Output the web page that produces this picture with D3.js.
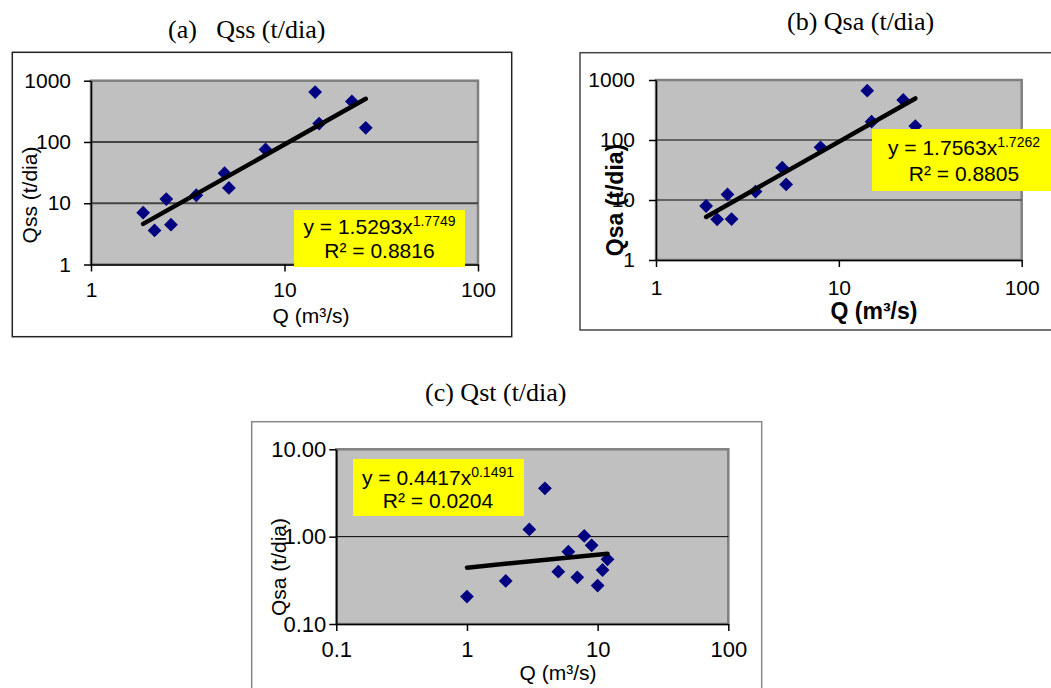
<!DOCTYPE html>
<html>
<head>
<meta charset="utf-8">
<script src="https://cdn.jsdelivr.net/npm/d3@7"></script>
<style>
  body { margin: 0; background: #fff; }
  svg { display: block; }
  .title { font-family: "Liberation Serif", "Times New Roman", serif; font-size: 26px; fill: #000; white-space: pre; }
  .tick text { font-family: "Liberation Sans", Arial, sans-serif; fill: #000; }
  .axis-title { font-family: "Liberation Sans", Arial, sans-serif; fill: #000; }
  .eq { font-family: "Liberation Sans", Arial, sans-serif; font-size: 21px; fill: #000; }
</style>
</head>
<body>
<div id="chart"></div>
<script>
// values
const qA = [1.86, 2.13, 2.45, 2.59, 3.50, 4.90, 5.16, 7.98, 14.4, 15.1, 22.3, 26.3];
const qssA = [7.0, 3.6, 11.7, 4.46, 13.5, 30.9, 17.8, 75.3, 653, 200, 459, 170];

const qB = [1.88, 2.16, 2.46, 2.59, 3.50, 4.90, 5.15, 7.94, 14.3, 15.1, 22.5, 26.2];
const qsaB = [7.94, 4.76, 12.4, 4.82, 13.8, 34.6, 18.2, 75.5, 664, 202, 464, 171];

const qC = [1.0, 1.98, 3.0, 3.95, 5.0, 5.97, 6.99, 7.9, 9.0, 10.0, 10.9, 11.9];
const qstC = [0.206, 0.311, 1.21, 3.58, 0.397, 0.673, 0.342, 1.02, 0.796, 0.275, 0.415, 0.55];

// power trendlines y = a * x^b
const coefA = { a: 1.5293, b: 1.7749, aTxt: "1.5293", bTxt: "1.7749", r2: "0.8816" };
const coefB = { a: 1.7563, b: 1.7262, aTxt: "1.7563", bTxt: "1.7262", r2: "0.8805" };
const coefC = { a: 0.4417, b: 0.1491, aTxt: "0.4417", bTxt: "0.1491", r2: "0.0204" };

const xTicksAB = [1, 10, 100];
const yTicksAB = [1, 10, 100, 1000];
const xTicksC = [0.1, 1, 10, 100];
const yTicksC = [0.1, 1, 10];
const yTickLabelsC = ["0.10", "1.00", "10.00"];

const width = 1051;
const height = 688;

const svg = d3.select("#chart").append("svg")
  .attr("width", width)
  .attr("height", height);

svg.append("rect").attr("width", width).attr("height", height).attr("fill", "#fff");

const panels = [
  {
    title: "(a)   Qss (t/dia)", titleX: 168, titleY: 38,
    frame: [12.3, 52.3, 511.7, 336.7], frameColor: "#222",
    xRange: [91, 478], yRange: [264.5, 80.7],
    xDomain: [1, 100], yDomain: [1, 1000],
    xTicks: xTicksAB, yTicks: yTicksAB, xFmt: d3.format("d"), yFmt: d3.format("d"),
    tickFs: 21, yPad: 13, xPad: 11,
    grid: "#444", gridW: 2,
    q: qA, v: qssA, coef: coefA,
    box: [294, 210, 171, 57], eqY: [234, 258], eqX: 379.5,
    xTitle: "Q (m³/s)", xTitleX: 311, xTitleY: 323, bold: false, titleFs: 21,
    yTitle: "Qss (t/dia)", yTitleX: 37, yTitleY: 195
  },
  {
    title: "(b) Qsa (t/dia)", titleX: 787, titleY: 30,
    frame: [580, 52.7, 1070, 330], frameColor: "#444",
    xRange: [656, 1021.7], yRange: [260, 80],
    xDomain: [1, 100], yDomain: [1, 1000],
    xTicks: xTicksAB, yTicks: yTicksAB, xFmt: d3.format("d"), yFmt: d3.format("d"),
    tickFs: 21, yPad: 14, xPad: 13,
    grid: "#444", gridW: 1.5,
    q: qB, v: qsaB, coef: coefB,
    box: [872, 129, 190, 62], eqY: [155, 181], eqX: 964,
    xTitle: "Q (m³/s)", xTitleX: 874, xTitleY: 319, bold: true, titleFs: 23,
    yTitle: "Qsa (t/dia)", yTitleX: 623, yTitleY: 200
  },
  {
    title: "(c) Qst (t/dia)", titleX: 425, titleY: 401,
    frame: [251.7, 421.7, 761.7, 700], frameColor: "#888",
    xRange: [336.3, 728.3], yRange: [624, 449.3],
    xDomain: [0.1, 100], yDomain: [0.1, 10],
    xTicks: xTicksC, yTicks: yTicksC,
    xFmt: d => (d < 1 ? "0.1" : d3.format("d")(d)),
    yFmt: d => yTickLabelsC[yTicksC.indexOf(d)],
    tickFs: 22, yPad: 3, xPad: 10,
    grid: "#000", gridW: 1,
    q: qC, v: qstC, coef: coefC,
    box: [353, 459, 171, 57], eqY: [485, 508], eqX: 438,
    xTitle: "Q (m³/s)", xTitleX: 558, xTitleY: 680, bold: false, titleFs: 21,
    yTitle: "Qsa (t/dia)", yTitleX: 286, yTitleY: 567
  }
];

const diamond = d3.symbol().type(d3.symbolSquare).size(95);

panels.forEach(p => {
  const g = svg.append("g");

  const [fx0, fy0, fx1, fy1] = p.frame;
  g.append("rect")
    .attr("x", fx0).attr("y", fy0)
    .attr("width", fx1 - fx0).attr("height", fy1 - fy0)
    .attr("fill", "#fff")
    .attr("stroke", p.frameColor)
    .attr("stroke-width", 1.5);

  svg.append("text")
    .attr("class", "title")
    .attr("x", p.titleX)
    .attr("y", p.titleY)
    .text(p.title);

  const x = d3.scaleLog().domain(p.xDomain).range(p.xRange);
  const y = d3.scaleLog().domain(p.yDomain).range(p.yRange);

  // plot area
  g.append("rect")
    .attr("x", p.xRange[0]).attr("y", p.yRange[1])
    .attr("width", p.xRange[1] - p.xRange[0])
    .attr("height", p.yRange[0] - p.yRange[1])
    .attr("fill", "#c0c0c0")
    .attr("stroke", "#808080")
    .attr("stroke-width", 2.5);

  // horizontal gridlines
  g.append("g").selectAll("line")
    .data(p.yTicks.slice(1, -1))
    .join("line")
    .attr("x1", p.xRange[0]).attr("x2", p.xRange[1])
    .attr("y1", d => y(d)).attr("y2", d => y(d))
    .attr("stroke", p.grid)
    .attr("stroke-width", p.gridW);

  // points
  g.append("g").selectAll("path")
    .data(p.q.map((q, i) => ({ q, v: p.v[i] })))
    .join("path")
    .attr("d", diamond)
    .attr("transform", d => `translate(${x(d.q)},${y(d.v)}) rotate(45)`)
    .attr("fill", "#000080");

  // power trendline (straight in log-log)
  const qExt = d3.extent(p.q);
  const trend = qExt.map(q => ({ q, v: p.coef.a * Math.pow(q, p.coef.b) }));
  g.append("path")
    .datum(trend)
    .attr("d", d3.line().x(d => x(d.q)).y(d => y(d.v)))
    .attr("stroke", "#000")
    .attr("stroke-width", 4.5)
    .attr("stroke-linecap", "round")
    .attr("fill", "none");

  // axes
  const yAxis = g.append("g")
    .attr("transform", `translate(${p.xRange[0]},0)`)
    .call(d3.axisLeft(y).tickValues(p.yTicks).tickFormat(p.yFmt).tickSizeInner(7).tickSizeOuter(0).tickPadding(p.yPad));
  const xAxis = g.append("g")
    .attr("transform", `translate(0,${p.yRange[0]})`)
    .call(d3.axisBottom(x).tickValues(p.xTicks).tickFormat(p.xFmt).tickSizeInner(7).tickSizeOuter(0).tickPadding(p.xPad));
  [xAxis, yAxis].forEach(a => {
    a.select(".domain").attr("stroke", "#000").attr("stroke-width", 1.5);
    a.selectAll(".tick line").attr("stroke", "#000").attr("stroke-width", 1.5);
    a.selectAll(".tick text").style("font-size", p.tickFs + "px");
  });

  // equation box
  const [bx, by, bw, bh] = p.box;
  g.append("rect")
    .attr("x", bx).attr("y", by).attr("width", bw).attr("height", bh)
    .attr("fill", "#ffff00");
  const eq1 = g.append("text").attr("class", "eq")
    .attr("x", p.eqX).attr("y", p.eqY[0]).attr("text-anchor", "middle");
  eq1.append("tspan").text(`y = ${p.coef.aTxt}x`);
  eq1.append("tspan").attr("dy", -8).style("font-size", "14px").text(p.coef.bTxt);
  g.append("text").attr("class", "eq")
    .attr("x", p.eqX).attr("y", p.eqY[1]).attr("text-anchor", "middle")
    .text(`R² = ${p.coef.r2}`);

  // axis titles
  g.append("text").attr("class", "axis-title")
    .attr("x", p.xTitleX).attr("y", p.xTitleY)
    .attr("text-anchor", "middle")
    .style("font-size", p.titleFs + "px")
    .style("font-weight", p.bold ? "bold" : "normal")
    .text(p.xTitle);
  g.append("text").attr("class", "axis-title")
    .attr("transform", `translate(${p.yTitleX},${p.yTitleY}) rotate(-90)`)
    .attr("text-anchor", "middle")
    .style("font-size", p.titleFs + "px")
    .style("font-weight", p.bold ? "bold" : "normal")
    .text(p.yTitle);
});
</script>
</body>
</html>
